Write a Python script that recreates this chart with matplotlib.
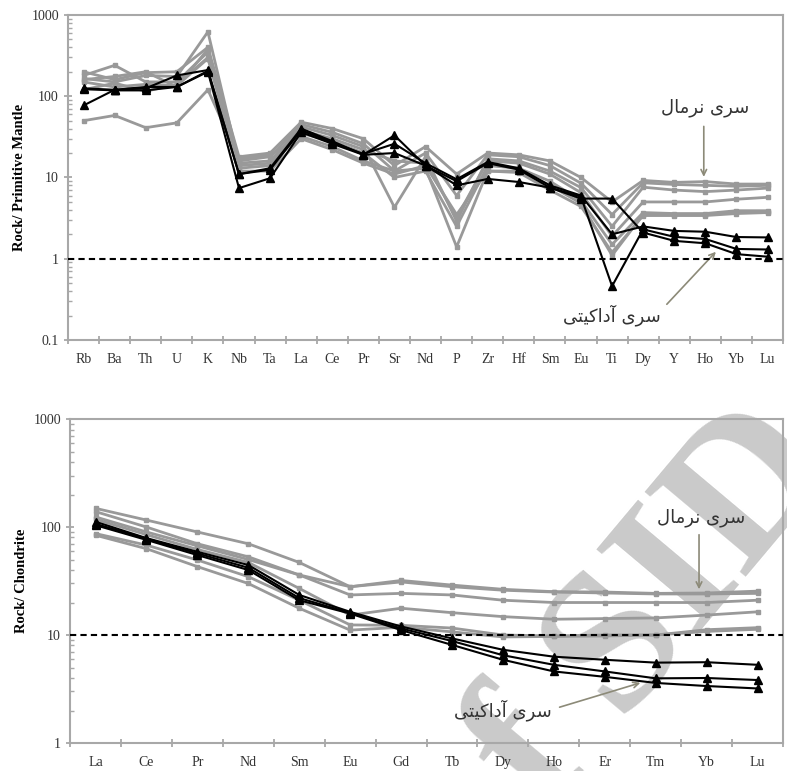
import matplotlib.pyplot as plt
import numpy as np

# --- spider diagram normalised to primitive mantle ---
pm_elements = ['Rb', 'Ba', 'Th', 'U', 'K', 'Nb', 'Ta', 'La', 'Ce', 'Pr', 'Sr', 'Nd',
               'P', 'Zr', 'Hf', 'Sm', 'Eu', 'Ti', 'Dy', 'Y', 'Ho', 'Yb', 'Lu']

# normal series (grey)
pm_n1 = [200, 160, 195, 200, 400, 18, 20, 48, 40, 30, 14, 24, 11, 20, 19, 16, 10, 5.0, 9.2, 8.7, 8.9, 8.3, 8.3]
pm_n2 = [180, 240, 150, 150, 350, 16, 18, 45, 36, 26, 12, 20, 6.0, 19, 18, 14, 8.5, 3.5, 8.6, 8.2, 8.0, 7.8, 8.0]
pm_n3 = [165, 150, 180, 175, 620, 15, 16, 42, 33, 24, 4.3, 18, 2.9, 17, 16, 12, 7.5, 2.5, 7.6, 7.0, 6.7, 7.0, 7.4]
pm_n4 = [150, 130, 140, 135, 290, 14, 15, 38, 30, 22, 16, 15, 3.2, 16, 15, 11, 6.5, 1.9, 5.0, 5.0, 5.0, 5.4, 5.7]
pm_n5 = [160, 175, 200, 130, 380, 13, 14, 35, 28, 20, 10, 12, 2.5, 14, 13, 9.0, 5.2, 1.5, 3.7, 3.6, 3.6, 3.9, 3.9]
pm_n6 = [120, 145, 115, 140, 300, 12, 12, 30, 22, 15, 11, 14, 3.5, 12, 11.5, 7.0, 4.4, 1.2, 3.4, 3.4, 3.4, 3.6, 3.7]
pm_n7 = [50, 58, 41, 47, 120, 17, 19, 32, 24, 16, 12, 13, 1.4, 12, 12, 8.0, 4.8, 1.1, 3.5, 3.5, 3.5, 3.8, 3.8]

# adakitic series (black)
pm_a1 = [122, 118, 118, 130, 205, 11, 12.5, 38, 27, 19.5, 26, 15, 9.5, 15.5, 13, 8.0, 6.0, 2.0, 2.5, 2.2, 2.15, 1.85, 1.83]
pm_a2 = [125, 120, 125, 180, 210, 11, 13, 40, 28, 19, 33, 14, 9.0, 15, 12.5, 7.5, 5.8, 0.46, 2.3, 1.86, 1.75, 1.32, 1.3]
pm_a3 = [77, 120, 130, 130, 200, 7.4, 9.8, 36, 26, 19, 20, 14, 8.0, 9.6, 8.8, 7.5, 5.5, 5.5, 2.1, 1.66, 1.55, 1.14, 1.06]

# --- REE normalised to chondrite ---
ree_elements = ['La', 'Ce', 'Pr', 'Nd', 'Sm', 'Eu', 'Gd', 'Tb', 'Dy', 'Ho', 'Er', 'Tm', 'Yb', 'Lu']

ree_n1 = [149, 116, 90, 70, 47, 28, 32, 29, 26.5, 25.2, 25, 24.3, 24.5, 25.5]
ree_n2 = [139, 100, 70, 53, 36, 28, 31, 28, 26, 25, 24.5, 24, 24, 24.3]
ree_n3 = [124, 90, 67, 50, 36, 23.5, 24.3, 23.5, 21, 20, 20, 20, 20, 21]
ree_n4 = [118, 85, 62, 47, 27, 15.3, 17.7, 16.1, 14.8, 14, 14.2, 14.4, 15.3, 16.4]
ree_n5 = [87, 68, 49.5, 34.7, 21, 12.4, 12.3, 11.6, 10, 9.8, 10, 10, 11.2, 11.7]
ree_n6 = [84, 63, 43, 30, 17.7, 11.1, 11.8, 10.7, 9.6, 9.7, 9.8, 10, 10.8, 11.3]

ree_a1 = [112, 79, 59, 44.5, 23.5, 16.4, 12, 9.3, 7.3, 6.3, 5.9, 5.55, 5.6, 5.3]
ree_a2 = [107, 78, 57, 42, 22, 16, 11.5, 8.8, 6.5, 5.3, 4.6, 3.97, 4.0, 3.83]
ree_a3 = [104, 76, 55, 40, 21, 15.8, 11.1, 8.1, 5.9, 4.6, 4.1, 3.6, 3.37, 3.2]

pm_normal = [pm_n1, pm_n2, pm_n3, pm_n4, pm_n5, pm_n6, pm_n7]
pm_adakite = [pm_a1, pm_a2, pm_a3]
ree_normal = [ree_n1, ree_n2, ree_n3, ree_n4, ree_n5, ree_n6]
ree_adakite = [ree_a1, ree_a2, ree_a3]

# persian labels, pre-shaped (presentation forms, visual order)
txt_normal = '\uFEDD\uFE8E\uFEE3\uFEAE\uFEE7 \uFEEF\uFEAE\uFEB3'
txt_adakite = '\uFEF0\uFE98\uFEF4\uFEDB\uFE8D\uFEA9\uFE81 \uFEEF\uFEAE\uFEB3'

serif = 'Liberation Serif'
grey = '#999999'
spine_col = '#a8a8a8'
arrow_col = '#8c8a78'
txt_col = '#333333'

fig = plt.figure(figsize=(7.87, 7.71), dpi=100)

# watermark behind everything
fig.text(0.832, 0.209, 'f SID', fontsize=145, family=serif, fontweight='bold',
         color='#cacaca', rotation=50, ha='center', va='center', zorder=-1)


def spider(ax, elements, normal, adakite, ymin, ylabel, ref):
    x = np.arange(len(elements))
    for v in normal:
        ax.plot(x, v, color=grey, lw=2, marker='s', ms=3.5, mec=grey, mfc=grey, zorder=2)
    for v in adakite:
        ax.plot(x, v, color='black', lw=1.5, marker='^', ms=6, zorder=3)
    ax.axhline(ref, color='black', lw=1.5, ls=(0, (3, 2)), zorder=4)
    ax.set_yscale('log')
    ax.set_ylim(ymin, 1000)
    ax.set_xlim(-0.5, len(elements) - 0.5)
    ax.set_xticks(np.arange(len(elements) + 1) - 0.5)
    ax.set_xticklabels([])
    ax.set_xticks(x, minor=True)
    ax.set_xticklabels(elements, minor=True, family=serif, fontsize=10, color=txt_col)
    ax.tick_params(axis='x', which='minor', length=0, pad=9)
    ax.tick_params(axis='x', which='major', direction='inout', length=6, color=spine_col, width=1.3)
    ax.tick_params(axis='y', which='major', direction='inout', length=6, color=spine_col, width=1.3,
                   labelsize=10, labelcolor=txt_col)
    ax.tick_params(axis='y', which='minor', direction='in', length=3, color=spine_col, width=1)
    ax.yaxis.set_major_formatter(plt.FuncFormatter(lambda v, p: f'{v:g}'))
    for lab in ax.get_yticklabels():
        lab.set_family(serif)
    ax.set_ylabel(ylabel, family=serif, fontweight='bold', fontsize=10.5)
    for s in ax.spines.values():
        s.set_color(spine_col)
        s.set_linewidth(1.5)
    ax.patch.set_alpha(0)


ax1 = fig.add_axes([0.0864, 0.559, 0.9086, 0.4216])
spider(ax1, pm_elements, pm_normal, pm_adakite, 0.1, 'Rock/ Primitive Mantle', 1)

ax2 = fig.add_axes([0.089, 0.0363, 0.906, 0.4202])
spider(ax2, ree_elements, ree_normal, ree_adakite, 1, 'Rock/ Chondrite', 10)

# annotations
arrow = dict(arrowstyle='->', color=arrow_col, lw=1.2)
fs = 13
fa = ['DejaVu Sans']
ax1.annotate('', xy=(19.95, 9.4), xytext=(19.95, 46), arrowprops=arrow)
ax1.text(20.0, 73, txt_normal, family=fa, fontsize=fs, color=txt_col, ha='center', va='center')
ax1.annotate('', xy=(20.4, 1.29), xytext=(18.7, 0.26), arrowprops=arrow)
ax1.text(17.0, 0.20, txt_adakite, family=fa, fontsize=fs, color=txt_col, ha='center', va='center')

ax2.annotate('', xy=(11.85, 25), xytext=(11.85, 90), arrowprops=arrow)
ax2.text(11.9, 121, txt_normal, family=fa, fontsize=fs, color=txt_col, ha='center', va='center')
ax2.annotate('', xy=(10.75, 3.67), xytext=(9.06, 2.11), arrowprops=arrow)
ax2.text(8.0, 2.02, txt_adakite, family=fa, fontsize=fs, color=txt_col, ha='center', va='center')

fig.savefig('out.png', dpi=100)
